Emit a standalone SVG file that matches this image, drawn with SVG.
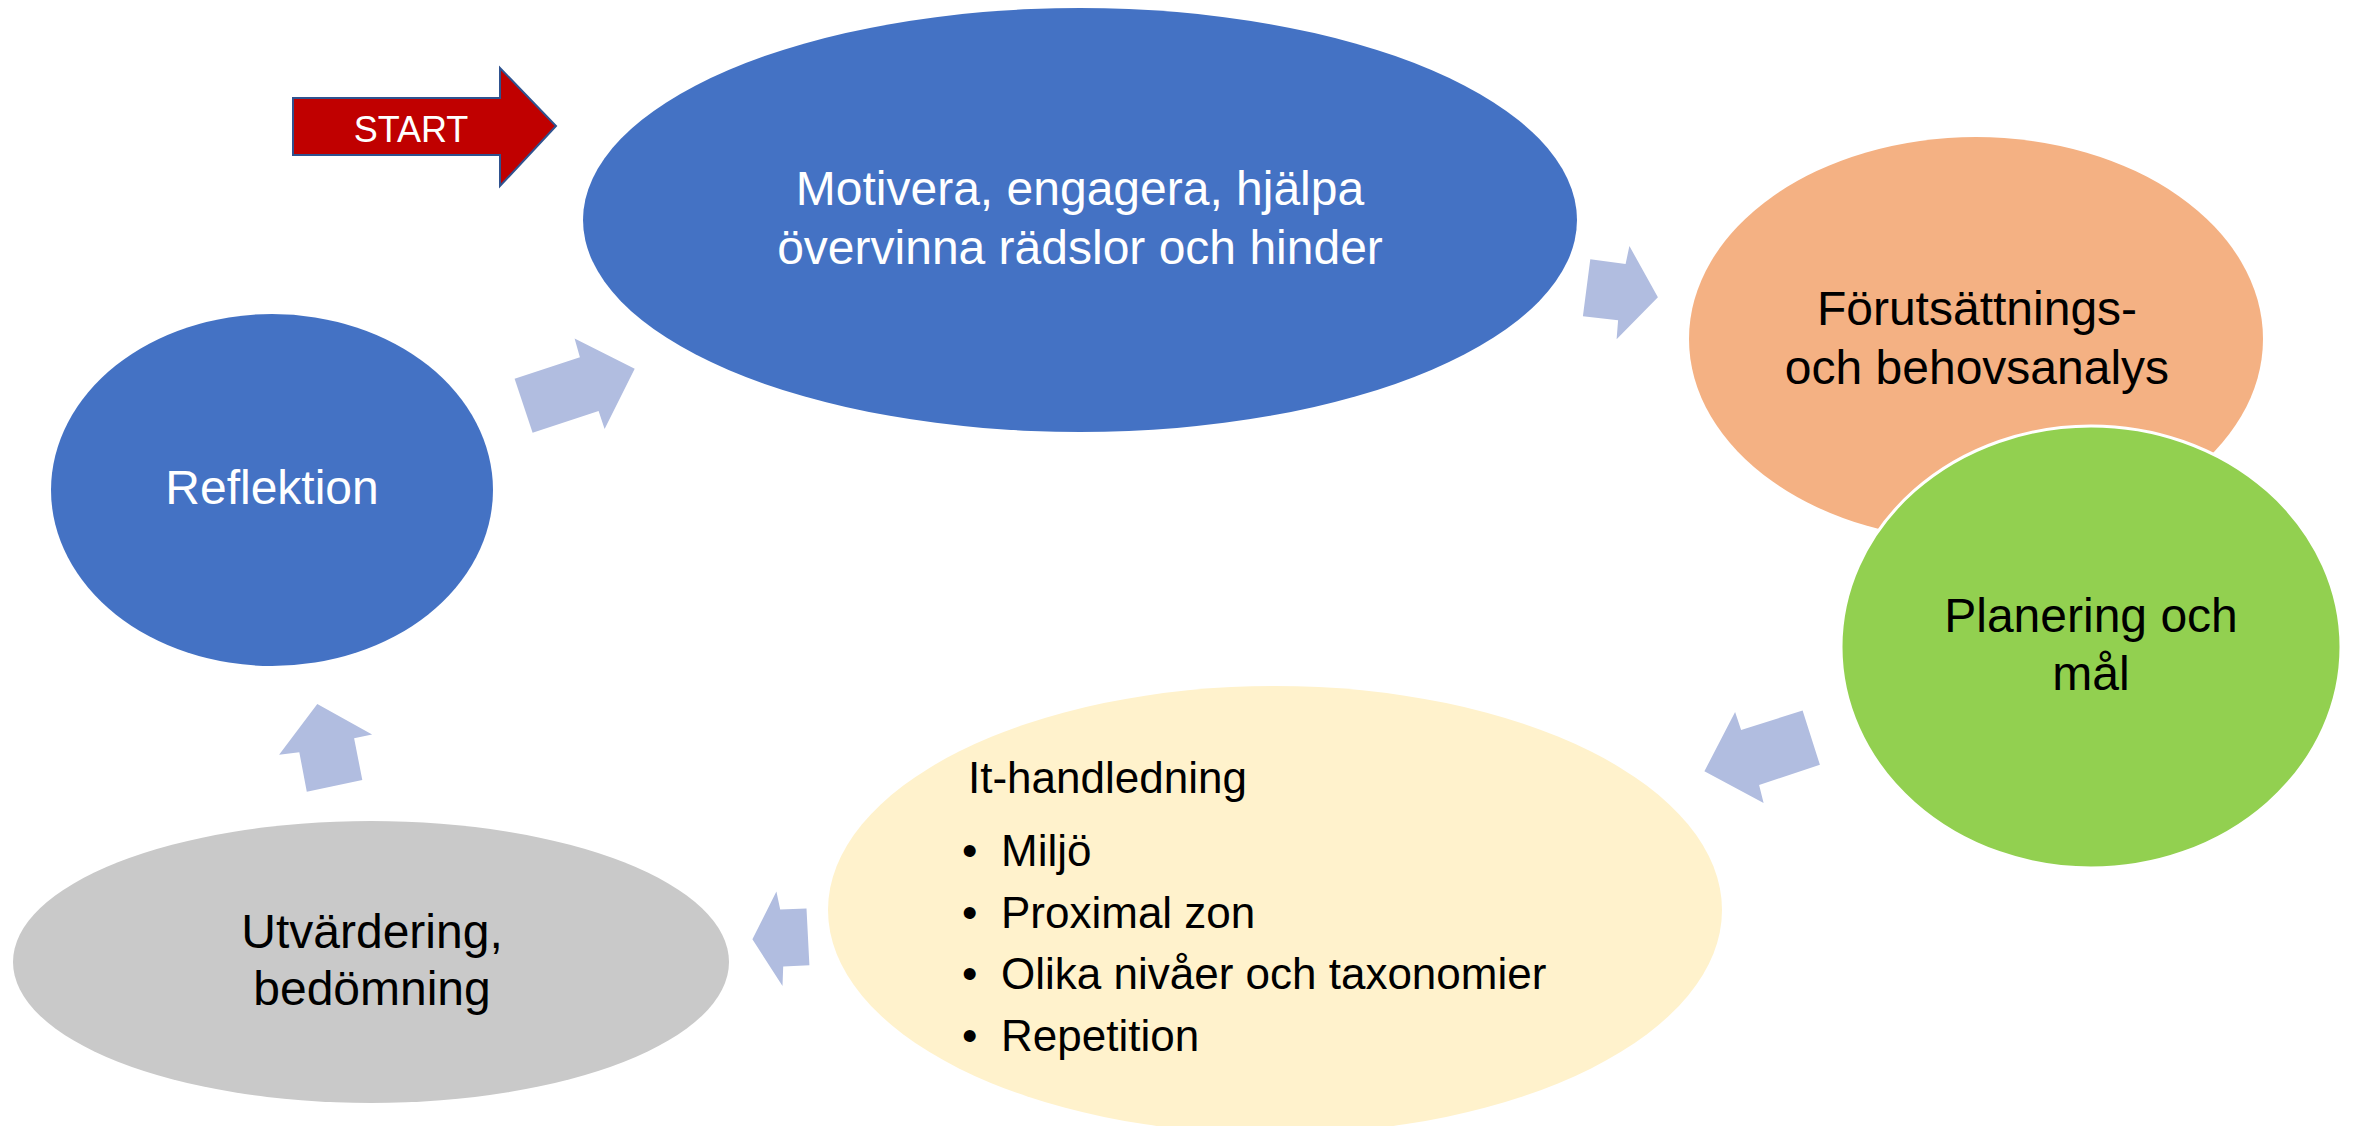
<svg xmlns="http://www.w3.org/2000/svg" width="2354" height="1126" viewBox="0 0 2354 1126">
<style>
text{font-family:"Liberation Sans",Arial,sans-serif;font-size:48px;text-anchor:middle;fill:#000}
.w{fill:#fff}
.l{text-anchor:start;font-size:44px}
.conn{fill:#B1BDE0}
</style>
<rect width="2354" height="1126" fill="#fff"/>
<g id="start">
<polygon points="293,98 500,98 500,68 556,126 500,186 500,155 293,155" fill="#C00000" stroke="#2F528F" stroke-width="2"/>
<text class="w" x="411" y="142" style="font-size:36px">START</text>
</g>
<g id="motivera">
<ellipse cx="1080" cy="220" rx="497" ry="212" fill="#4472C4"/>
<text class="w" x="1080" y="205">Motivera, engagera, hjälpa</text>
<text class="w" x="1080" y="264">övervinna rädslor och hinder</text>
</g>
<g id="forutsattnings">
<ellipse cx="1976" cy="339" rx="287" ry="202" fill="#F4B183"/>
<text x="1977" y="325">Förutsättnings-</text>
<text x="1977" y="384">och behovsanalys</text>
</g>
<g id="planering">
<ellipse cx="2091" cy="647" rx="250" ry="221" fill="#92D050" stroke="#fff" stroke-width="3"/>
<text x="2091" y="632">Planering och</text>
<text x="2091" y="690">mål</text>
</g>
<g id="it-handledning">
<ellipse cx="1275" cy="910" rx="447" ry="224" fill="#FFF2CC"/>
<text class="l" x="968" y="793">It-handledning</text>
<text class="l" x="962" y="866">•</text><text class="l" x="1001" y="866">Miljö</text>
<text class="l" x="962" y="928">•</text><text class="l" x="1001" y="928">Proximal zon</text>
<text class="l" x="962" y="989">•</text><text class="l" x="1001" y="989">Olika nivåer och taxonomier</text>
<text class="l" x="962" y="1051">•</text><text class="l" x="1001" y="1051">Repetition</text>
</g>
<g id="utvardering">
<ellipse cx="371" cy="962" rx="358" ry="141" fill="#C9C9C9"/>
<text x="372" y="948">Utvärdering,</text>
<text x="372" y="1005">bedömning</text>
</g>
<g id="reflektion">
<ellipse cx="272" cy="490" rx="221" ry="176" fill="#4472C4"/>
<text class="w" x="272" y="504">Reflektion</text>
</g>
<g id="connectors">
<polygon class="conn" points="514.6,378.8 579.9,357.3 574.6,338.6 634.7,368.8 604.6,429.1 598.6,411.1 532.6,432.7"/>
<polygon class="conn" points="1590.3,259.2 1625.6,263.9 1629.4,246 1657.9,297.3 1616.6,339.3 1618.1,320.3 1582.9,316.3"/>
<polygon class="conn" points="1802.6,710.6 1741.1,730 1735.1,712 1704.4,771.3 1763.6,802.9 1759.1,784.9 1819.9,764.8"/>
<polygon class="conn" points="806.5,908.4 780.2,909.5 776.4,891.5 752.4,939.3 782.5,986 783.2,966.6 809.4,965.2"/>
<polygon class="conn" points="306.8,791.7 299.3,752.2 279.1,754.7 317.3,704.1 372.1,734.6 354.1,738.2 362.3,779.9"/>
</g>
</svg>
